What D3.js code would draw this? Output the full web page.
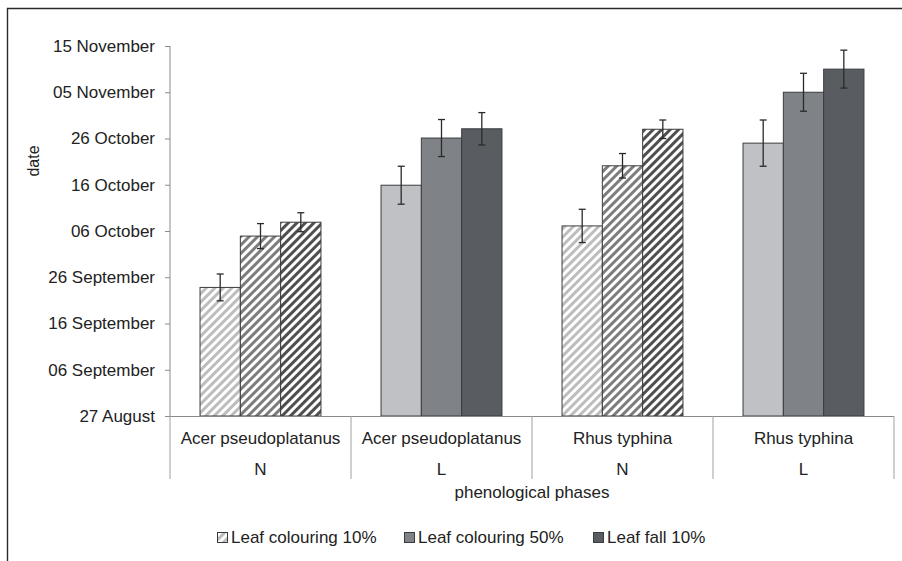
<!DOCTYPE html>
<html><head><meta charset="utf-8">
<script src="https://cdn.jsdelivr.net/npm/d3@7"></script>
<style>body{margin:0;background:#fff}svg{display:block;font-family:"Liberation Sans",Arial,sans-serif}</style>
</head><body><svg id="c" width="902" height="561"></svg>
<script>
// Data: days after 27 August
const species = ["Acer pseudoplatanus","Acer pseudoplatanus","Rhus typhina","Rhus typhina"];
const sites = ["N","L","N","L"];
const series = ["Leaf colouring 10%","Leaf colouring 50%","Leaf fall 10%"];
const leafColouring10 = [27.8, 49.9, 41.1, 59.0];
const leafColouring50 = [38.9, 60.1, 54.1, 70.0];
const leafFall10 = [41.9, 62.1, 62.0, 75.0];
const err10 = [2.9, 4.1, 3.6, 5.0];
const err50 = [2.7, 4.0, 2.65, 4.1];
const errFall = [2.05, 3.5, 2.0, 4.1];
const tickValues = [0,10,20,30,40,50,60,70,80];
const tickLabels = ["27 August","06 September","16 September","26 September","06 October","16 October","26 October","05 November","15 November"];

const values = [leafColouring10, leafColouring50, leafFall10];
const errors = [err10, err50, errFall];
const solid = ["#c0c1c5","#7f8387","#595d61"];
const stripe = ["#bdbdbd","#7d7d7d","#4f4f4f"];
const hatched = [true,false,true,false];

const svg = d3.select("#c");
const defs = svg.append("defs");
stripe.forEach((c,i)=>{
  const p = defs.append("pattern").attr("id","h"+i).attr("patternUnits","userSpaceOnUse")
    .attr("width",6).attr("height",6).attr("patternTransform","rotate(45)");
  p.append("rect").attr("width",6).attr("height",6).attr("fill","#fff");
  p.append("rect").attr("width",3).attr("height",6).attr("fill",c);
});

// frame
svg.append("path").attr("d","M7.5,561 V8.5 H902").attr("fill","none").attr("stroke","#2a2a2a").attr("stroke-width",1.4);

const y = d3.scaleLinear().domain([0,80]).range([416,46]);
const cats = d3.range(species.length);
const x0 = d3.scaleBand().domain(cats).range([170,894]).paddingInner(0).paddingOuter(0);
const x1 = d3.scaleBand().domain(d3.range(series.length)).range([0,x0.bandwidth()]).paddingInner(0).paddingOuter(0.745);

// y axis
const yAxis = d3.axisLeft(y).tickValues(tickValues).tickFormat((d,i)=>tickLabels[i]).tickSize(5).tickPadding(10);
const ga = svg.append("g").attr("transform","translate(170,0)").call(yAxis);
ga.select(".domain").attr("stroke","#8a8a8a").attr("d","M0,46V416");
ga.selectAll(".tick line").attr("stroke","#8a8a8a");
ga.selectAll(".tick text").attr("font-size",17).attr("fill","#222").attr("font-family","Liberation Sans, Arial, sans-serif");

// bars
cats.forEach(ci=>{
  series.forEach((s,si)=>{
    const v = values[si][ci];
    const bx = x0(ci)+x1(si);
    const fill = hatched[ci] ? `url(#h${si})` : solid[si];
    svg.append("rect").attr("x",bx).attr("y",y(v)).attr("width",x1.bandwidth()).attr("height",y(0)-y(v))
      .attr("fill",fill).attr("stroke","#3a3d40").attr("stroke-width",1);
  });
});
// error bars
cats.forEach(ci=>{
  series.forEach((s,si)=>{
    const v = values[si][ci], e = errors[si][ci];
    const cx = x0(ci)+x1(si)+x1.bandwidth()/2;
    const g = svg.append("g").attr("stroke","#2a2a2a").attr("stroke-width",1.3);
    g.append("line").attr("x1",cx).attr("x2",cx).attr("y1",y(v+e)).attr("y2",y(v-e));
    g.append("line").attr("x1",cx-3.5).attr("x2",cx+3.5).attr("y1",y(v+e)).attr("y2",y(v+e));
    g.append("line").attr("x1",cx-3.5).attr("x2",cx+3.5).attr("y1",y(v-e)).attr("y2",y(v-e));
  });
});

// category axis
svg.append("line").attr("x1",170).attr("x2",894).attr("y1",416.5).attr("y2",416.5).attr("stroke","#8a8a8a");
const bounds = cats.map(c=>x0(c)).concat([x0.range()[1]]);
bounds.forEach(b=>svg.append("line").attr("x1",b).attr("x2",b).attr("y1",416).attr("y2",479).attr("stroke","#a0a0a0"));
cats.forEach(ci=>{
  const cx = x0(ci)+x0.bandwidth()/2;
  svg.append("text").attr("x",cx).attr("y",444).attr("text-anchor","middle").attr("font-size",17).attr("fill","#222").text(species[ci]);
  svg.append("text").attr("x",cx).attr("y",475).attr("text-anchor","middle").attr("font-size",17).attr("fill","#222").text(sites[ci]);
});
svg.append("text").attr("x",532).attr("y",498).attr("text-anchor","middle").attr("font-size",17).attr("fill","#222").text("phenological phases");
svg.append("text").attr("transform","translate(39,161) rotate(-90)").attr("text-anchor","middle").attr("font-size",16).attr("fill","#222").text("date");

// legend
const legX = [217,404,593];
series.forEach((s,si)=>{
  svg.append("rect").attr("x",legX[si]+0.5).attr("y",532.5).attr("width",10).attr("height",10)
    .attr("fill", si===0 ? "url(#h0)" : solid[si]).attr("stroke","#3a3d40").attr("stroke-width",1);
  svg.append("text").attr("x",legX[si]+14).attr("y",543).attr("font-size",17).attr("fill","#222").text(s);
});
</script></body></html>
